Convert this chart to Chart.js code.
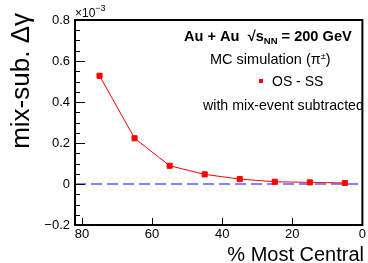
<!DOCTYPE html>
<html>
<head>
<meta charset="utf-8">
<script src="https://cdn.jsdelivr.net/npm/chart.js@4.4.1/dist/chart.umd.min.js"></script>
<style>
  html, body { margin: 0; padding: 0; background: #fff; }
  #wrap { width: 368px; height: 263px; }
</style>
</head>
<body>
<div id="wrap"><canvas id="grafico" width="368" height="263"></canvas></div>
<script>
// centralidade (% Most Central) e valores (x10^-3)
const centralidade = [75, 65, 55, 45, 35, 25, 15, 5];
const deltaGamma = [0.528, 0.223, 0.089, 0.047, 0.024, 0.011, 0.008, 0.005];
// linha de referência em zero
const refX = [82, 0];
const refY = [0, 0];
const xTicks = [80, 60, 40, 20, 0];
const yTicks = [-0.2, 0, 0.2, 0.4, 0.6, 0.8];

const FONTE = "'Liberation Sans', Arial, sans-serif";

// ---------------------------------------------------------
// desenha texto com pedaços (sobrescrito / subscrito)
// ---------------------------------------------------------
function textoRico(ctx, partes, x, y) {
  partes.forEach((p) => {
    ctx.font = (p.bold ? "bold " : "") + p.size + "px " + FONTE;
    ctx.fillText(p.t, x, y + (p.dy || 0));
    x += ctx.measureText(p.t).width;
  });
}

const molduraPlugin = {
  id: "moldura",
  afterDraw(chart) {
    const ctx = chart.ctx;
    const a = chart.chartArea;
    const xs = chart.scales.x;
    const ys = chart.scales.y;
    ctx.save();
    ctx.strokeStyle = "#000";
    ctx.lineWidth = 1;
    // ticks internos do eixo y (major + minor)
    for (let v = -0.2; v <= 0.8001; v += 0.05) {
      const py = Math.round(ys.getPixelForValue(v)) + 0.5;
      const major = Math.abs(Math.round(v * 100) % 20) < 1;
      ctx.beginPath();
      ctx.moveTo(a.left, py);
      ctx.lineTo(a.left + (major ? 10 : 5), py);
      ctx.stroke();
    }
    // ticks internos do eixo x
    xTicks.forEach((v) => {
      const px = Math.round(xs.getPixelForValue(v)) + 0.5;
      ctx.beginPath();
      ctx.moveTo(px, a.bottom);
      ctx.lineTo(px, a.bottom - 7);
      ctx.stroke();
    });
    // moldura
    ctx.lineWidth = 2;
    ctx.strokeRect(a.left, a.top, a.right - a.left, a.bottom - a.top);

    ctx.fillStyle = "#000";
    ctx.textAlign = "left";
    ctx.textBaseline = "alphabetic";
    // x10^-3
    textoRico(ctx, [
      { t: "\u00d710", size: 12 },
      { t: "\u22123", size: 9, dy: -6 },
    ], 75, 17);

    // título eixo y
    ctx.save();
    ctx.translate(29, 13);
    ctx.rotate(-Math.PI / 2);
    ctx.textAlign = "right";
    ctx.font = "26px " + FONTE;
    ctx.fillText("mix-sub. \u0394\u03b3", 0, 0);
    ctx.restore();

    // título eixo x
    ctx.textAlign = "right";
    ctx.font = "20px " + FONTE;
    ctx.fillText("% Most Central", 364, 261);
    ctx.textAlign = "left";

    // textos da legenda
    textoRico(ctx, [
      { t: "Au + Au  \u221a", size: 14.6, bold: true },
      { t: "s", size: 14.6, bold: true },
      { t: "NN", size: 9.5, bold: true, dy: 3 },
      { t: " = 200 GeV", size: 14.6, bold: true },
    ], 184, 41);
    textoRico(ctx, [
      { t: "MC simulation (\u03c0", size: 14.5 },
      { t: "\u00b1", size: 9, dy: -5 },
      { t: ")", size: 14.5 },
    ], 210, 64);
    const ds = chart.data.datasets[0];
    ctx.fillStyle = ds.backgroundColor;
    ctx.fillRect(259, 79, 4, 4);
    ctx.fillStyle = "#000";
    textoRico(ctx, [{ t: "OS - SS", size: 14 }], 272, 86);
    textoRico(ctx, [{ t: "with mix-event subtracted", size: 14.2 }], 203, 110);
    ctx.restore();
  },
};

new Chart(document.getElementById("grafico"), {
  type: "scatter",
  data: {
    datasets: [
      {
        label: "OS - SS",
        data: centralidade.map((c, i) => ({ x: c, y: deltaGamma[i] })),
        showLine: true,
        borderColor: "#ff0000",
        backgroundColor: "#ff0000",
        borderWidth: 1,
        pointStyle: "rect",
        pointRadius: 3.6,
        pointHoverRadius: 3.6,
      },
      {
        label: "zero",
        data: refX.map((x, i) => ({ x: x, y: refY[i] })),
        showLine: true,
        borderColor: "rgba(60,60,255,0.85)",
        borderWidth: 1.5,
        borderDash: [11, 5],
        pointRadius: 0,
      },
    ],
  },
  options: {
    responsive: false,
    animation: false,
    devicePixelRatio: 1,
    layout: { padding: { top: 20, right: 3, left: 0, bottom: 0 } },
    plugins: { legend: { display: false }, tooltip: { enabled: false } },
    scales: {
      x: {
        type: "linear",
        min: 0,
        max: 82,
        reverse: true,
        afterFit: (s) => { s.height = 38; },
        afterBuildTicks: (s) => { s.ticks = xTicks.map((v) => ({ value: v })); },
        grid: { display: false, drawTicks: false },
        border: { display: false },
        ticks: {
          padding: 2,
          color: "#000",
          font: { family: FONTE, size: 13 },
        },
      },
      y: {
        min: -0.2,
        max: 0.8,
        afterFit: (s) => { s.width = 75; },
        afterBuildTicks: (s) => { s.ticks = yTicks.map((v) => ({ value: v })); },
        grid: { display: false, drawTicks: false },
        border: { display: false },
        ticks: {
          padding: 5,
          color: "#000",
          font: { family: FONTE, size: 13 },
          callback: (v) => {
            const r = Math.round(v * 10) / 10;
            if (r === 0) return "0";
            return r.toFixed(1).replace("-", "\u2212");
          },
        },
      },
    },
  },
  plugins: [molduraPlugin],
});
</script>
</body>
</html>
